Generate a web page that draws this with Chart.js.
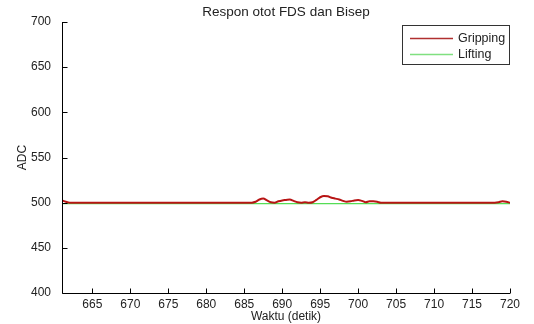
<!DOCTYPE html>
<html>
<head>
<meta charset="utf-8">
<script src="https://cdn.jsdelivr.net/npm/chart.js@4/dist/chart.umd.min.js"></script>
<style>
html,body{margin:0;padding:0;background:#fff;}
#wrap{width:534px;height:324px;}
</style>
</head>
<body>
<div id="wrap"><canvas id="c" width="534" height="324"></canvas></div>
<script>
const chartTitle = "Respon otot FDS dan Bisep";
const xTitle = "Waktu (detik)";
const yTitle = "ADC";
const seriesNames = ["Gripping", "Lifting"];
const xTicks = [665, 670, 675, 680, 685, 690, 695, 700, 705, 710, 715, 720];
const yTicks = [400, 450, 500, 550, 600, 650, 700];
const times = [661, 661.5, 662, 670, 680, 686, 686.5, 687, 687.5, 688, 688.5, 689, 689.5, 690, 690.5, 691, 691.5, 692, 692.5, 693, 693.5, 694, 694.5, 695, 695.5, 696, 696.5, 697, 697.5, 698, 698.5, 699, 699.5, 700, 700.5, 701, 701.5, 702, 702.5, 703, 710, 718, 718.5, 719, 719.5, 720];
const gripping = [502.5, 501, 500, 500, 500, 500, 501, 503.5, 504.5, 502.5, 500.5, 500, 501.5, 502.5, 503, 503.5, 502, 500.5, 500, 500.5, 500, 500.5, 503, 506, 507.5, 507, 505.5, 504.5, 503.5, 502, 501, 501.5, 502.5, 503, 502, 500.5, 501.5, 501.5, 501, 500, 500, 500, 500.5, 501.5, 501, 500];
const liftingTimes = [661, 720];
const lifting = [498.9, 498.9];

const toXY = (xs, ys) => xs.map((x, i) => ({x: x, y: ys[i]}));

const lineColors = ["#b81414", "#55dd55"];
const legendColors = ["#b03030", "#80e080"];

const FONT = "'Liberation Sans', Arial, sans-serif";

const frame = {
  id: 'frame',
  afterDraw(chart) {
    const ctx = chart.ctx;
    const a = chart.chartArea;
    const xs = chart.scales.x, ys = chart.scales.y;
    ctx.save();
    ctx.fillStyle = '#222';
    ctx.font = "13.5px " + FONT;
    ctx.textAlign = 'center';
    ctx.textBaseline = 'middle';
    ctx.fillText(chartTitle, (a.left + a.right) / 2, 12);

    ctx.strokeStyle = '#000';
    ctx.lineWidth = 1;
    ctx.beginPath();
    ctx.moveTo(Math.round(a.left) + 0.5, a.top);
    ctx.lineTo(Math.round(a.left) + 0.5, Math.round(a.bottom) + 0.5);
    ctx.lineTo(a.right, Math.round(a.bottom) + 0.5);
    xTicks.forEach(v => {
      const px = Math.round(xs.getPixelForValue(v)) + 0.5;
      ctx.moveTo(px, Math.round(a.bottom) + 0.5);
      ctx.lineTo(px, Math.round(a.bottom) - 4.5);
    });
    yTicks.forEach(v => {
      const py = Math.round(ys.getPixelForValue(v)) + 0.5;
      ctx.moveTo(Math.round(a.left) + 0.5, py);
      ctx.lineTo(Math.round(a.left) + 5.5, py);
    });
    ctx.stroke();

    const bx = 402, by = 25, bw = 107, bh = 39;
    ctx.fillStyle = '#fff';
    ctx.fillRect(bx, by, bw, bh);
    ctx.strokeStyle = '#333';
    ctx.strokeRect(bx + 0.5, by + 0.5, bw, bh);
    ctx.font = "12.5px " + FONT;
    ctx.textBaseline = 'middle';
    ctx.textAlign = 'left';
    chart.data.datasets.forEach((ds, i) => {
      const y = by + 13 + i * 16;
      ctx.strokeStyle = legendColors[i];
      ctx.lineWidth = 1.3;
      ctx.beginPath();
      ctx.moveTo(bx + 8, y + 0.5);
      ctx.lineTo(bx + 51, y + 0.5);
      ctx.stroke();
      ctx.fillStyle = '#222';
      ctx.fillText(ds.label, bx + 56, y + 1);
    });
    ctx.restore();
  }
};

new Chart(document.getElementById('c'), {
  type: 'line',
  data: {
    datasets: [
      { label: seriesNames[0], data: toXY(times, gripping), borderColor: lineColors[0], backgroundColor: lineColors[0], borderWidth: 2, pointRadius: 0, tension: 0.35, cubicInterpolationMode: 'monotone' },
      { label: seriesNames[1], data: toXY(liftingTimes, lifting), borderColor: lineColors[1], backgroundColor: lineColors[1], borderWidth: 1.2, pointRadius: 0 }
    ]
  },
  options: {
    responsive: false,
    animation: false,
    layout: { padding: { left: 15, right: 24, top: 22, bottom: 0 } },
    plugins: {
      legend: { display: false },
      tooltip: { enabled: false },
      title: { display: false }
    },
    scales: {
      x: {
        type: 'linear', min: 661, max: 720,
        afterBuildTicks: s => { s.ticks = xTicks.map(v => ({value: v})); },
        afterFit: s => { s.height = 31; },
        grid: { display: false, drawTicks: false },
        border: { display: false },
        ticks: { color: '#222', font: { family: FONT, size: 12 }, padding: 4, maxRotation: 0, autoSkip: false },
        title: { display: true, text: xTitle, color: '#222', font: { family: FONT, size: 12 }, padding: { top: 1, bottom: 0 } }
      },
      y: {
        min: 400, max: 700,
        afterBuildTicks: s => { s.ticks = yTicks.map(v => ({value: v})); },
        afterFit: s => { s.width = 47; },
        grid: { display: false, drawTicks: false },
        border: { display: false },
        ticks: { color: '#222', font: { family: FONT, size: 12 }, padding: 11 },
        title: { display: true, text: yTitle, color: '#222', font: { family: FONT, size: 12 }, padding: { top: 0, bottom: 0 } }
      }
    }
  },
  plugins: [frame]
});
</script>
</body>
</html>
